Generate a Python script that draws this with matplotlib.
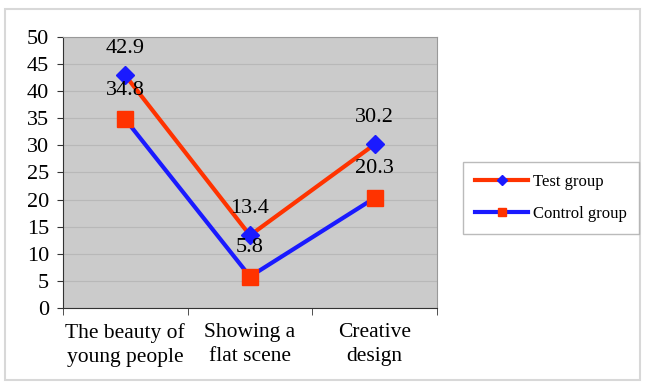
import matplotlib.pyplot as plt
from matplotlib.patches import Rectangle

categories = ['The beauty of\nyoung people', 'Showing a\nflat scene', 'Creative\ndesign']
test_group = [42.9, 13.4, 30.2]
control_group = [34.8, 5.8, 20.3]

plt.rcParams['font.family'] = ['Liberation Serif', 'DejaVu Serif']

red = '#ff3300'
blue = '#1a1aff'

fig = plt.figure(figsize=(6.46, 3.85), dpi=100)
fig.patches.append(Rectangle((0.008, 0.012), 0.983, 0.965, transform=fig.transFigure,
                             fill=False, edgecolor='#d8d8d8', lw=1.5))
ax = fig.add_axes([0.0975, 0.2, 0.579, 0.704])
ax.set_facecolor('#cbcbcb')

x = list(range(len(categories)))
ax.plot(x, test_group, color=red, lw=3, marker='D', ms=9, mfc=blue, mec=blue,
        label='Test group', zorder=3)
ax.plot(x, control_group, color=blue, lw=3, marker='s', ms=11, mfc=red, mec=red,
        label='Control group', zorder=3)

for xi, v in zip(x, test_group):
    ax.annotate(f'{v}', (xi, v), xytext=(0, 19.5), textcoords='offset points',
                ha='center', va='center', fontsize=16)
for xi, v in zip(x, control_group):
    ax.annotate(f'{v}', (xi, v), xytext=(0, 21), textcoords='offset points',
                ha='center', va='center', fontsize=16)

ax.set_xlim(-0.5, 2.5)
ax.set_ylim(0, 50)
ax.set_yticks(range(0, 51, 5))
ax.set_xticks(x)
ax.set_xticklabels(categories, fontsize=15.5, linespacing=1.35)
ax.set_xticks([-0.5, 0.5, 1.5, 2.5], minor=True)
ax.tick_params(axis='x', which='major', length=0, pad=11)
ax.tick_params(axis='x', which='minor', length=5, direction='out', color='#333333')
ax.tick_params(axis='y', labelsize=16, length=4, direction='out', color='#333333', pad=6)
ax.yaxis.grid(True, color='#b8b8b8', lw=0.8)
ax.set_axisbelow(True)
for side in ['left', 'bottom']:
    ax.spines[side].set_color('#333333')
for side in ['top', 'right']:
    ax.spines[side].set_color('#999999')

leg = fig.legend(loc='center', bbox_to_anchor=(0.853, 0.486), fontsize=12,
                 frameon=True, fancybox=False, edgecolor='#aaaaaa', handlelength=3.2,
                 borderpad=0.7, labelspacing=1.0, handletextpad=0.3, markerscale=0.55)
leg.get_frame().set_linewidth(1)

fig.savefig('out.png', dpi=100)
